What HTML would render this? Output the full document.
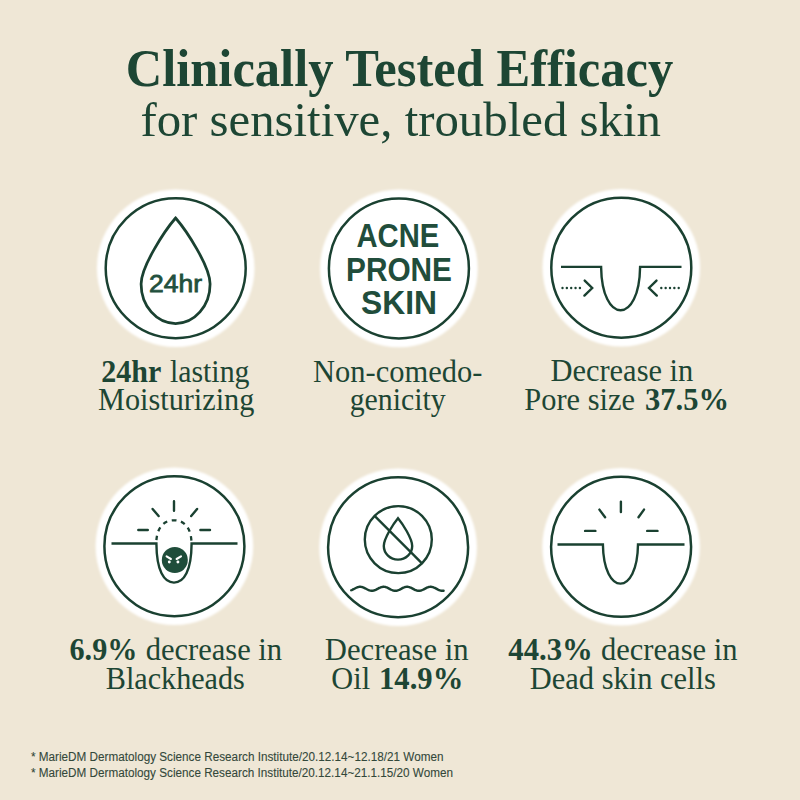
<!DOCTYPE html>
<html><head><meta charset="utf-8"><title>Clinically Tested Efficacy</title>
<style>html,body{margin:0;padding:0;background:#EFE7D6;} body{width:800px;height:800px;overflow:hidden;font-family:"Liberation Serif",serif;} svg{display:block}</style>
</head><body>
<svg width="800" height="800" viewBox="0 0 800 800">
<defs><filter id="soft" x="-10%" y="-10%" width="120%" height="120%"><feGaussianBlur stdDeviation="1.3"/></filter></defs>
<rect width="800" height="800" fill="#EFE7D6"/>
<circle cx="175.7" cy="268.2" r="78.8" fill="#FFFFFF" filter="url(#soft)"/><circle cx="175.7" cy="268.2" r="70.0" fill="none" stroke="#1A4131" stroke-width="2.5"/>
<circle cx="398.9" cy="268.4" r="78.8" fill="#FFFFFF" filter="url(#soft)"/><circle cx="398.9" cy="268.4" r="70.0" fill="none" stroke="#1A4131" stroke-width="2.5"/>
<circle cx="621.3" cy="267.7" r="78.8" fill="#FFFFFF" filter="url(#soft)"/><circle cx="621.3" cy="267.7" r="70.0" fill="none" stroke="#1A4131" stroke-width="2.5"/>
<circle cx="174.4" cy="546.2" r="78.8" fill="#FFFFFF" filter="url(#soft)"/><circle cx="174.4" cy="546.2" r="70.0" fill="none" stroke="#1A4131" stroke-width="2.5"/>
<circle cx="398.1" cy="547.2" r="78.8" fill="#FFFFFF" filter="url(#soft)"/><circle cx="398.1" cy="547.2" r="70.0" fill="none" stroke="#1A4131" stroke-width="2.5"/>
<circle cx="621.1" cy="546.8" r="78.8" fill="#FFFFFF" filter="url(#soft)"/><circle cx="621.1" cy="546.8" r="70.0" fill="none" stroke="#1A4131" stroke-width="2.5"/>
<path d="M 175.60 218.00 C 164.81 230.48, 141.10 266.37, 141.10 284.00 C 141.10 305.82, 156.55 323.50, 175.60 323.50 C 194.65 323.50, 210.10 305.82, 210.10 284.00 C 210.10 266.37, 186.39 230.48, 175.60 218.00 Z" fill="none" stroke="#1A4131" stroke-width="2.75" stroke-linejoin="miter"/>
<text x="149.1" y="292.4" font-family="Liberation Sans" font-weight="400" font-size="24.6" fill="#22503D" stroke="#22503D" stroke-width="0.8" textLength="53.0" lengthAdjust="spacingAndGlyphs">24hr</text>
<text x="356.5" y="247.3" font-family="Liberation Sans" font-weight="700" font-size="32.5" fill="#214D3B" textLength="82.80000000000001" lengthAdjust="spacingAndGlyphs">ACNE</text>
<text x="346.0" y="281.0" font-family="Liberation Sans" font-weight="700" font-size="32.5" fill="#214D3B" textLength="106.0" lengthAdjust="spacingAndGlyphs">PRONE</text>
<text x="361.0" y="314.0" font-family="Liberation Sans" font-weight="700" font-size="32.5" fill="#214D3B" textLength="76.0" lengthAdjust="spacingAndGlyphs">SKIN</text>
<path d="M 561 266.9 H 601.1 C 601.49 295.54, 610.85 310.30, 620.60 310.30 C 630.35 310.30, 639.71 295.54, 640.10 266.90 H 681.5" fill="none" stroke="#1A4131" stroke-width="2.4" stroke-linejoin="miter"/>
<circle cx="562.50" cy="288" r="1.2" fill="#1A4131"/><circle cx="566.85" cy="288" r="1.2" fill="#1A4131"/><circle cx="571.20" cy="288" r="1.2" fill="#1A4131"/><circle cx="575.55" cy="288" r="1.2" fill="#1A4131"/><circle cx="579.90" cy="288" r="1.2" fill="#1A4131"/><circle cx="678.70" cy="288" r="1.2" fill="#1A4131"/><circle cx="674.35" cy="288" r="1.2" fill="#1A4131"/><circle cx="670.00" cy="288" r="1.2" fill="#1A4131"/><circle cx="665.65" cy="288" r="1.2" fill="#1A4131"/><circle cx="661.30" cy="288" r="1.2" fill="#1A4131"/>
<path d="M 584.7 280.6 L 592.2 288 L 584.4 295.6 M 656.5 280.6 L 649.0 288 L 656.8 295.6" fill="none" stroke="#1A4131" stroke-width="2.4" stroke-linecap="round" stroke-linejoin="miter"/>
<path d="M 111.5 543.5 H 156.4 C 156.59 570.87, 164.02 582.60, 174.00 582.60 C 183.98 582.60, 191.41 570.87, 191.60 543.50 H 237.5" fill="none" stroke="#1A4131" stroke-width="2.4"/>
<path d="M 156.3 543.6 C 156.3 528.2, 163.2 520.3, 173.9 520.3 C 184.6 520.3, 191.5 528.2, 191.5 543.6" fill="none" stroke="#1A4131" stroke-width="2.3" stroke-dasharray="4.5 4.7" stroke-dashoffset="6.03"/>
<circle cx="174.8" cy="560" r="13" fill="#1F4D3A"/>
<path d="M 166.6 556.4 L 170.9 559.0 M 181.0 556.4 L 176.6 559.0" stroke="#FFFFFF" stroke-width="2.1" stroke-linecap="round"/>
<circle cx="169.3" cy="562" r="1.45" fill="#FFFFFF"/><circle cx="177.9" cy="562" r="1.45" fill="#FFFFFF"/>
<path d="M 174 501.2 V 510.8 M 152.6 508.9 L 158.6 516.1 M 197.1 508.9 L 191.2 516.1 M 138.3 530 H 147.8 M 200.4 530 H 210" stroke="#1A4131" stroke-width="2.4" stroke-linecap="round"/>
<circle cx="398.3" cy="539.6" r="33.5" fill="none" stroke="#1A4131" stroke-width="2.4"/>
<path d="M 374.6 515.9 L 422 563.3" stroke="#1A4131" stroke-width="2.4"/>
<path d="M 398.00 518.20 C 393.56 523.46, 383.80 538.57, 383.80 546.00 C 383.80 553.51, 390.16 559.60, 398.00 559.60 C 405.84 559.60, 412.20 553.51, 412.20 546.00 C 412.20 538.57, 402.44 523.46, 398.00 518.20 Z" fill="none" stroke="#1A4131" stroke-width="2.4"/>
<polyline points="351.20,590.25 351.66,590.07 352.12,589.87 352.59,589.65 353.05,589.42 353.51,589.18 353.97,588.94 354.43,588.69 354.90,588.44 355.36,588.20 355.82,587.97 356.28,587.75 356.74,587.55 357.21,587.37 357.67,587.21 358.13,587.07 358.59,586.96 359.05,586.88 359.52,586.82 359.98,586.80 360.44,586.81 360.90,586.85 361.36,586.91 361.83,587.01 362.29,587.13 362.75,587.28 363.21,587.45 363.67,587.65 364.14,587.86 364.60,588.08 365.06,588.32 365.52,588.56 365.98,588.80 366.45,589.05 366.91,589.29 367.37,589.53 367.83,589.75 368.29,589.96 368.76,590.15 369.22,590.32 369.68,590.47 370.14,590.60 370.60,590.69 371.07,590.76 371.53,590.79 371.99,590.80 372.45,590.77 372.91,590.72 373.38,590.64 373.84,590.52 374.30,590.39 374.76,590.22 375.22,590.04 375.69,589.84 376.15,589.62 376.61,589.39 377.07,589.15 377.53,588.90 378.00,588.66 378.46,588.41 378.92,588.17 379.38,587.94 379.84,587.73 380.31,587.53 380.77,587.35 381.23,587.19 381.69,587.05 382.15,586.95 382.62,586.87 383.08,586.82 383.54,586.80 384.00,586.81 384.46,586.85 384.93,586.92 385.39,587.02 385.85,587.15 386.31,587.30 386.77,587.48 387.24,587.67 387.70,587.89 388.16,588.11 388.62,588.35 389.08,588.59 389.55,588.84 390.01,589.08 390.47,589.33 390.93,589.56 391.39,589.78 391.86,589.99 392.32,590.18 392.78,590.35 393.24,590.49 393.70,590.61 394.17,590.70 394.63,590.76 395.09,590.80 395.55,590.80 396.01,590.77 396.48,590.71 396.94,590.62 397.40,590.51 397.86,590.37 398.32,590.20 398.79,590.01 399.25,589.81 399.71,589.59 400.17,589.36 400.63,589.11 401.10,588.87 401.56,588.62 402.02,588.38 402.48,588.14 402.94,587.91 403.41,587.70 403.87,587.50 404.33,587.32 404.79,587.17 405.25,587.04 405.72,586.94 406.18,586.86 406.64,586.82 407.10,586.80 407.56,586.82 408.03,586.86 408.49,586.94 408.95,587.04 409.41,587.17 409.87,587.33 410.34,587.50 410.80,587.70 411.26,587.91 411.72,588.14 412.18,588.38 412.65,588.62 413.11,588.87 413.57,589.12 414.03,589.36 414.49,589.59 414.96,589.81 415.42,590.02 415.88,590.20 416.34,590.37 416.80,590.51 417.27,590.62 417.73,590.71 418.19,590.77 418.65,590.80 419.11,590.80 419.58,590.76 420.04,590.70 420.50,590.61 420.96,590.49 421.42,590.34 421.89,590.18 422.35,589.99 422.81,589.78 423.27,589.56 423.73,589.32 424.20,589.08 424.66,588.84 425.12,588.59 425.58,588.35 426.04,588.11 426.51,587.88 426.97,587.67 427.43,587.48 427.89,587.30 428.35,587.15 428.82,587.02 429.28,586.92 429.74,586.85 430.20,586.81 430.66,586.80 431.13,586.82 431.59,586.87 432.05,586.95 432.51,587.06 432.97,587.19 433.44,587.35 433.90,587.53 434.36,587.73 434.82,587.94 435.28,588.17 435.75,588.41 436.21,588.66 436.67,588.90 437.13,589.15 437.59,589.39 438.06,589.62 438.52,589.84 438.98,590.04 439.44,590.23 439.90,590.39 440.37,590.53 440.83,590.64 441.29,590.72 441.75,590.77 442.21,590.80 442.68,590.79 443.14,590.76 443.60,590.69" fill="none" stroke="#1A4131" stroke-width="2.4" stroke-linecap="round"/>
<path d="M 557.5 544.5 H 602.9 C 603.25 570.31, 611.68 583.60, 620.45 583.60 C 629.23 583.60, 637.65 570.31, 638.00 544.50 H 684.5" fill="none" stroke="#1A4131" stroke-width="2.4"/>
<path d="M 620.9 501.6 V 512.0 M 599.4 509.6 L 605.1 517.3 M 644.0 509.6 L 638.5 517.3 M 585.1 530.9 H 595.4 M 647.2 530.9 H 657.5" stroke="#1A4131" stroke-width="2.4" stroke-linecap="round"/>
<text x="125.67" y="86.0" font-family="Liberation Serif" font-weight="700" font-size="52" fill="#1D4634" textLength="547.63" lengthAdjust="spacingAndGlyphs">Clinically Tested Efficacy</text>
<text x="140.41" y="135.5" font-family="Liberation Serif" font-weight="400" font-size="49" fill="#1D4634" textLength="520.43" lengthAdjust="spacingAndGlyphs">for sensitive, troubled skin</text>
<text x="101.29" y="381.5" font-family="Liberation Serif" font-weight="700" font-size="31" fill="#1D4634" textLength="60.04" lengthAdjust="spacingAndGlyphs">24hr</text>
<text x="169.92" y="381.5" font-family="Liberation Serif" font-weight="400" font-size="31" fill="#1D4634" textLength="79.62" lengthAdjust="spacingAndGlyphs">lasting</text>
<text x="98.02" y="410.3" font-family="Liberation Serif" font-weight="400" font-size="31" fill="#1D4634" textLength="156.37" lengthAdjust="spacingAndGlyphs">Moisturizing</text>
<text x="313.12" y="381.5" font-family="Liberation Serif" font-weight="400" font-size="31" fill="#1D4634" textLength="169.28" lengthAdjust="spacingAndGlyphs">Non-comedo-</text>
<text x="349.70" y="410.3" font-family="Liberation Serif" font-weight="400" font-size="31" fill="#1D4634" textLength="96.01" lengthAdjust="spacingAndGlyphs">genicity</text>
<text x="550.42" y="381.3" font-family="Liberation Serif" font-weight="400" font-size="31" fill="#1D4634" textLength="142.91" lengthAdjust="spacingAndGlyphs">Decrease in</text>
<text x="524.32" y="410.3" font-family="Liberation Serif" font-weight="400" font-size="31" fill="#1D4634" textLength="110.58" lengthAdjust="spacingAndGlyphs">Pore size</text>
<text x="644.97" y="410.3" font-family="Liberation Serif" font-weight="700" font-size="31" fill="#1D4634" textLength="84.09" lengthAdjust="spacingAndGlyphs">37.5%</text>
<text x="69.53" y="660.0" font-family="Liberation Serif" font-weight="700" font-size="31" fill="#1D4634" textLength="67.89" lengthAdjust="spacingAndGlyphs">6.9%</text>
<text x="145.67" y="660.0" font-family="Liberation Serif" font-weight="400" font-size="31" fill="#1D4634" textLength="136.47" lengthAdjust="spacingAndGlyphs">decrease in</text>
<text x="105.78" y="688.6" font-family="Liberation Serif" font-weight="400" font-size="31" fill="#1D4634" textLength="139.08" lengthAdjust="spacingAndGlyphs">Blackheads</text>
<text x="324.76" y="659.8" font-family="Liberation Serif" font-weight="400" font-size="31" fill="#1D4634" textLength="143.92" lengthAdjust="spacingAndGlyphs">Decrease in</text>
<text x="331.27" y="688.5" font-family="Liberation Serif" font-weight="400" font-size="31" fill="#1D4634" textLength="38.83" lengthAdjust="spacingAndGlyphs">Oil</text>
<text x="379.03" y="688.5" font-family="Liberation Serif" font-weight="700" font-size="31" fill="#1D4634" textLength="84.34" lengthAdjust="spacingAndGlyphs">14.9%</text>
<text x="508.25" y="660.2" font-family="Liberation Serif" font-weight="700" font-size="31" fill="#1D4634" textLength="84.62" lengthAdjust="spacingAndGlyphs">44.3%</text>
<text x="601.02" y="660.2" font-family="Liberation Serif" font-weight="400" font-size="31" fill="#1D4634" textLength="136.42" lengthAdjust="spacingAndGlyphs">decrease in</text>
<text x="529.82" y="688.6" font-family="Liberation Serif" font-weight="400" font-size="31" fill="#1D4634" textLength="186.05" lengthAdjust="spacingAndGlyphs">Dead skin cells</text>
<text x="31.0" y="761.0" font-family="Liberation Sans" font-weight="400" font-size="12.5" fill="#33483A" textLength="412.5" lengthAdjust="spacingAndGlyphs" stroke="#34493B" stroke-width="0.1">* MarieDM Dermatology Science Research Institute/20.12.14~12.18/21 Women</text>
<text x="31.0" y="776.8" font-family="Liberation Sans" font-weight="400" font-size="12.5" fill="#33483A" textLength="422" lengthAdjust="spacingAndGlyphs" stroke="#34493B" stroke-width="0.1">* MarieDM Dermatology Science Research Institute/20.12.14~21.1.15/20 Women</text>
</svg>
</body></html>
